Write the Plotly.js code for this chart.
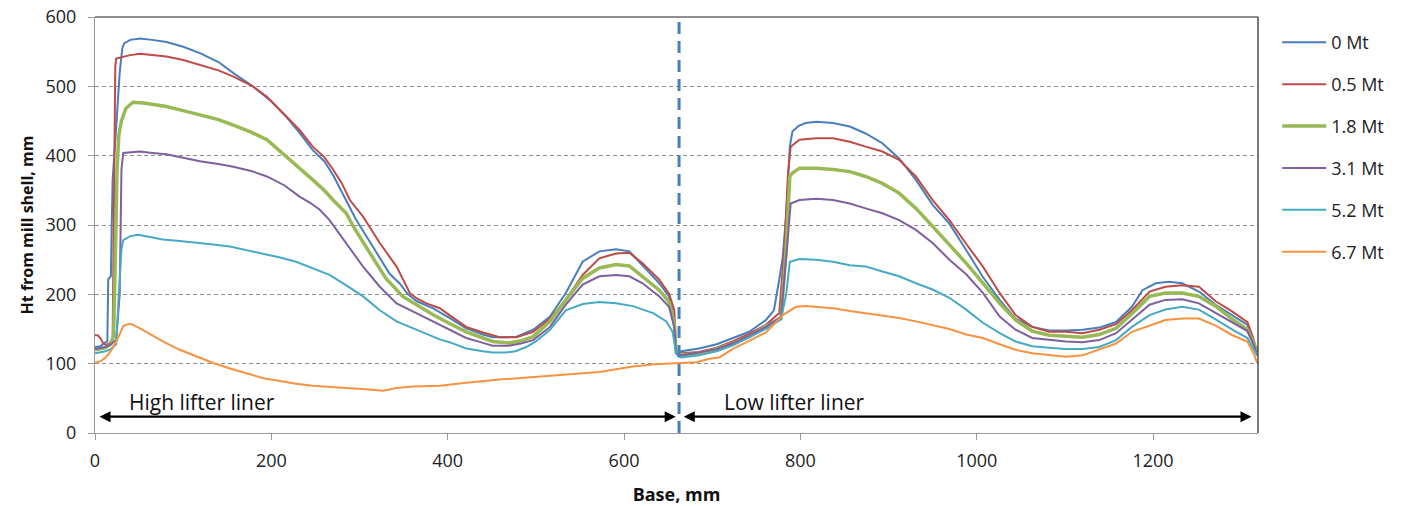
<!DOCTYPE html>
<html>
<head>
<meta charset="utf-8">
<script src="https://cdn.plot.ly/plotly-3.0.1.min.js"></script>
<style>html,body{margin:0;padding:0;background:#fff;}#chart{width:1404px;height:506px;}</style>
</head>
<body>
<div id="chart"></div>
<script>
// ---- Data ----
const seriesNames = ['0 Mt', '0.5 Mt', '1.8 Mt', '3.1 Mt', '5.2 Mt', '6.7 Mt'];

const x_0Mt = [0,6,11,14,15,18,19,20,25,28,31,33,40,51,65,81,100,119,140,157,179,200,217,232,247,260,270,281,290,296,315,334,346,355,365,383,402,421,440,451,465,478,497,516,534,553,572,591,606,621,640,651,657,659,662,
  665,685,705,723,742,761,770,776,780,784,788,791,798,806,818,837,856,874,893,912,931,950,969,988,1007,1026,1044,1063,1082,1101,1120,1139,1158,1176,1188,1203,1218,1233,1252,1271,1290,1307,1313,1318];
const y_0Mt = [124,125,130,132,222,226,300,365,460,520,555,562,567,569,567,564,557,548,535,519,500,478,456,433,408,392,372,345,322,308,269,230,215,200,190,180,166,151,142,138,138,139,149,168,202,247,262,265,262,242,216,197,163,117,116,
  118,122,128,137,146,163,177,221,254,317,413,435,443,447,449,447,442,432,418,396,365,329,302,264,225,192,165,153,148,148,149,152,160,182,206,216,218,216,204,185,170,156,134,120];

const x_05Mt = [0,3,6,9,12,16,20,22,23,24,30,40,51,65,81,100,119,140,157,179,195,217,232,247,260,270,280,289,304,323,342,357,365,376,391,402,421,440,459,478,497,516,534,553,572,591,606,621,640,651,657,659,662,
  665,685,705,723,742,761,776,782,786,789,799,818,837,856,874,893,912,931,950,969,988,1007,1026,1044,1063,1082,1101,1120,1139,1158,1176,1196,1214,1233,1252,1271,1290,1307,1313,1318];
const y_05Mt = [141,141,137,130,127,129,135,400,528,540,542,545,547,545,543,538,531,523,514,500,485,456,437,413,398,380,360,336,312,274,240,202,194,187,180,170,153,145,138,138,146,165,192,228,252,259,260,245,221,201,177,120,113,
  115,117,123,132,143,156,173,269,375,413,423,425,425,420,413,406,394,370,336,307,273,240,202,170,153,146,146,144,149,157,177,204,211,213,211,190,175,160,139,117];

const x_18Mt = [0,6,12,18,21,23,25,27,30,35,43,55,81,100,119,140,157,177,195,217,232,247,260,270,285,293,312,330,349,368,383,402,421,440,451,469,483,497,516,534,553,572,591,606,621,640,651,657,659,662,
  665,685,705,723,742,761,778,784,788,791,799,818,837,856,874,893,912,931,950,969,988,1007,1026,1044,1063,1082,1101,1120,1139,1158,1176,1196,1214,1233,1252,1271,1290,1307,1314,1318];
const y_18Mt = [120,121,123,128,140,250,380,430,450,468,477,476,471,465,459,452,444,434,423,399,383,365,350,336,317,298,259,223,197,182,171,158,146,137,132,130,133,139,161,192,223,238,243,241,226,206,189,158,117,113,
  113,114,121,129,139,154,165,269,370,375,382,382,380,377,370,360,346,324,298,271,245,216,187,163,147,141,139,138,142,151,172,197,202,202,197,183,164,149,130,117];

const x_31Mt = [0,6,12,18,24,28,30,32,40,51,65,81,100,119,140,157,177,195,215,232,244,255,266,285,304,323,342,361,383,402,421,440,451,469,483,497,516,534,553,572,591,606,621,640,651,657,659,662,
  665,685,705,723,742,761,778,785,789,799,818,837,856,874,893,912,931,950,969,988,1007,1026,1044,1063,1082,1101,1120,1139,1158,1176,1196,1214,1233,1252,1271,1290,1307,1314,1318];
const y_31Mt = [121,122,124,128,134,200,380,404,405,406,404,402,397,392,388,384,378,370,357,341,332,322,307,274,240,211,187,175,161,148,137,130,126,126,129,134,153,185,214,226,228,226,216,197,182,153,115,111,
  112,116,121,129,140,153,168,269,331,336,338,336,331,324,317,307,293,274,250,229,202,168,149,137,134,132,131,134,144,163,185,192,193,187,173,159,147,128,112];

const x_52Mt = [0,6,12,18,24,27,30,32,40,49,60,77,96,115,134,153,172,191,210,228,247,266,285,304,323,342,361,376,391,402,421,440,451,465,477,489,500,516,534,553,572,591,610,633,648,655,659,662,
  665,685,705,723,742,761,778,784,788,799,818,837,856,874,893,912,931,950,969,988,1007,1026,1044,1063,1082,1101,1120,1139,1158,1176,1196,1214,1233,1252,1271,1290,1307,1314,1318];
const y_52Mt = [115,116,118,121,128,200,265,278,284,286,283,279,277,275,272,269,264,259,253,247,238,228,213,197,177,161,151,143,135,131,122,118,116,116,118,124,132,149,177,186,189,187,183,173,161,146,117,110,
  109,112,118,126,138,150,164,201,247,251,250,247,242,240,233,226,216,207,195,178,159,144,132,125,123,121,121,124,134,153,170,178,182,178,164,149,137,120,112];

const x_67Mt = [0,7,13,19,25,32,37,42,51,64,77,96,115,134,153,172,191,210,228,247,266,285,304,318,327,342,361,391,421,459,497,534,572,591,610,635,659,670,682,697,708,
  723,742,761,780,795,806,820,837,856,874,893,912,931,950,969,988,1007,1026,1044,1063,1082,1101,1120,1139,1158,1176,1196,1214,1233,1252,1271,1290,1307,1314,1318];
const y_67Mt = [101,104,110,120,134,154,157,157,151,141,132,120,110,101,93,86,79,75,71,68,66,65,63.5,62,61,65,67,68,72.6,77,81,84,88,92,96,99,101,101,102,107,109,
  121,133,145,170,182,183,182,180,176,173,170,166,161,156,150,142,137,128,120,115,112,110,112,120,129,146,155,163,165,165,155,141,132,115,101];

const xTickVals = [0, 200, 400, 600, 800, 1000, 1200];
const yTickVals = [0, 100, 200, 300, 400, 500, 600];
const dividerX = 662.4;
const regionLabels = ['High lifter liner', 'Low lifter liner'];
const regionStart = [3.4, 666];
const regionEnd = [658.6, 1311.6];
const regionLabelX = [36.3, 711.6];
const arrowY = 23.5;
const labelY = 45;

// ---- Styles ----
const colors = ['#4A7EBB', '#BE4B48', '#98B954', '#7D60A0', '#46AAC5', '#F69240'];
const widths = [2, 2, 3.5, 2, 2, 2];
const xs = [x_0Mt, x_05Mt, x_18Mt, x_31Mt, x_52Mt, x_67Mt];
const ys = [y_0Mt, y_05Mt, y_18Mt, y_31Mt, y_52Mt, y_67Mt];

const FONT = 'Open Sans, sans-serif';

const traces = seriesNames.map((name, i) => ({
  type: 'scatter', mode: 'lines', name: name,
  x: xs[i], y: ys[i],
  legendgroup: 'g' + i,
  line: {color: colors[i], width: widths[i]}
}));

const annotations = [];
regionLabels.forEach((lab, i) => {
  annotations.push({
    xref: 'x', yref: 'y', axref: 'x', ayref: 'y',
    x: regionEnd[i], y: arrowY, ax: regionStart[i], ay: arrowY,
    text: '', showarrow: true, arrowside: 'end+start',
    arrowhead: 2, startarrowhead: 2, arrowsize: 1, startarrowsize: 1,
    arrowwidth: 2.2, arrowcolor: '#000', standoff: 0, startstandoff: 0
  });
  annotations.push({
    xref: 'x', yref: 'y', x: regionLabelX[i], y: labelY,
    xanchor: 'left', yanchor: 'middle', showarrow: false,
    text: lab, font: {family: FONT, size: 21, color: '#111'}
  });
});

const layout = {
  width: 1404, height: 506,
  margin: {l: 95, r: 146, t: 17, b: 73},
  paper_bgcolor: '#fff', plot_bgcolor: '#fff',
  font: {family: FONT, size: 18, color: '#222'},
  showlegend: true,
  legend: {
    x: 1.0165, xanchor: 'left', y: 0.983, yanchor: 'top',
    font: {family: FONT, size: 18, color: '#222'},
    tracegroupgap: 15.5, itemwidth: 44, bgcolor: 'rgba(0,0,0,0)', borderwidth: 0
  },
  xaxis: {
    range: [0, 1319], tickvals: xTickVals, ticktext: xTickVals.map(String),
    ticks: 'outside', ticklen: 6, tickcolor: '#999', tickwidth: 1,
    showline: true, linecolor: '#999', linewidth: 1,
    showgrid: false, zeroline: false, ticklabelstandoff: 5,
    tickfont: {family: FONT, size: 18, color: '#222'},
    title: {text: 'Base, mm', font: {family: FONT, size: 18, weight: 700, color: '#111'}, standoff: 22}
  },
  yaxis: {
    range: [0, 600], tickvals: yTickVals, ticktext: yTickVals.map(String),
    ticks: 'outside', ticklen: 6, tickcolor: '#999', tickwidth: 1,
    showline: true, linecolor: '#999', linewidth: 1,
    showgrid: true, gridcolor: '#8f8f8f', gridwidth: 1, griddash: '4px,3px',
    zeroline: false, ticklabelstandoff: 8,
    tickfont: {family: FONT, size: 18, color: '#222'},
    title: {text: 'Ht from mill shell, mm', font: {family: FONT, size: 16, weight: 700, color: '#111'}, standoff: 7}
  },
  shapes: [
    {type: 'line', xref: 'paper', yref: 'paper', x0: 0, x1: 1, y0: 1, y1: 1, line: {color: '#222', width: 1.2}},
    {type: 'line', xref: 'paper', yref: 'paper', x0: 1, x1: 1, y0: 0, y1: 1, line: {color: '#222', width: 1.2}},
    {type: 'line', xref: 'x', yref: 'paper', x0: dividerX, x1: dividerX, y0: 0, y1: 1, line: {color: '#4A7EBB', width: 3, dash: '12px,7px'}}
  ],
  annotations: annotations
};

Plotly.newPlot('chart', traces, layout, {displayModeBar: false, staticPlot: true});
</script>
</body>
</html>
